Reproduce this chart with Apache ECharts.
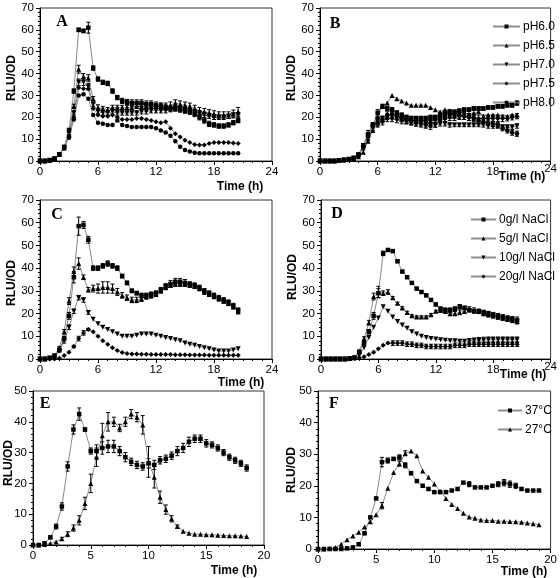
<!DOCTYPE html>
<html><head><meta charset="utf-8">
<script src="https://cdn.jsdelivr.net/npm/echarts@6/dist/echarts.min.js"></script>
<style>html,body{margin:0;padding:0;background:#fff}#c{width:560px;height:578px}</style>
</head><body><div id="c"></div><script>
// ---------- time points ----------
const tAD = [0,0.5,1,1.5,2,2.5,3,3.5,4,4.5,5,5.5,6,6.5,7,7.5,8,8.5,9,9.5,10,10.5,11,11.5,12,12.5,13,13.5,14,14.5,15,15.5,16,16.5,17,17.5,18,18.5,19,19.5,20,20.5];
const tE = [0,0.5,1,1.5,2,2.5,3,3.5,4,4.5,5,5.5,6,6.5,7,7.5,8,8.5,9,9.5,10,10.5,11,11.5,12,12.5,13,13.5,14,14.5,15,15.5,16,16.5,17,17.5,18,18.5];
const tF = [0,0.5,1,1.5,2,2.5,3,3.5,4,4.5,5,5.5,6,6.5,7,7.5,8,8.5,9,9.5,10,10.5,11,11.5,12,12.5,13,13.5,14,14.5,15,15.5,16,16.5,17,17.5,18,18.5,19];

// ---------- tick labels ----------
const ticksX24 = [0,6,12,18,24];
const ticksX20 = [0,5,10,15,20];
const ticksY70 = [0,10,20,30,40,50,60,70];
const ticksY50 = [0,10,20,30,40,50];

// ---------- Panel A (pH) ----------
const A_ph60 = [0,0,0.3,1,3,6.5,14,32,60,59.5,61,42.5,37.5,36,35.5,32,29,27.5,27,26.5,26.5,26.5,26,26,25.5,25,24.5,24,24,23.5,23,22.5,21.5,20,18.5,17,16.5,16,16,16.5,17.5,18.5];
const A_ph65 = [0,0,0.3,1,3,6,12,25,42,38.5,38,28.5,24.5,24,23.5,24.5,24.5,24.5,24.5,24.5,25,25,25,25,25,25,25,25.5,26.5,26,25.5,25,24,23,22.5,22,21.5,21,21,21,21.5,22.5];
const A_ph70 = [0,0,0.3,1,3,6,11,22,36,36,34,26,22.5,22,22,22.5,22,22,22,22,22,22.5,22.5,23,23,23,23,23.5,24,24,23.5,23,22.5,22,21,20.5,20,20,20,20.5,21,21];
const A_ph75 = [0,0,0.3,1,3,6,11,20,33.5,33,33,24,21,20.5,20.5,21,20,19,19,19,19.5,19.5,19,18.5,18,17.5,18,15,12.5,11,9.5,8.5,7.5,7.3,7.3,8,8.5,8.5,8.5,8.5,8.2,8];
const A_ph80 = [0,0,0.3,1,3,6,11,19,30,30.5,28.5,21,17.5,17,16.5,16.5,18.5,16.5,16,15.5,15.5,15.5,15.5,15.5,15,14,13,11.5,9,6.5,5,4.3,3.8,3.6,3.5,3.5,3.5,3.5,3.5,3.5,3.5,3.5];
const A_ph60_err = [0,0,0,0,0,0.5,1,1,0.8,0.8,2.5,1,1,1,1,1,1,1.2,1.2,1.5,1.5,1.5,1.5,1.5,1.5,1.5,1.2,1.2,1.2,1.2,1.2,1.2,1.2,1.2,1.2,1.2,1,1,1,1,1,1];
const A_ph65_err = [0,0,0,0,0,0.5,1,1,1.8,1.5,1.5,1,1.2,1,1,1,1,1,1,1,1,1,1,1,1,1.5,1.5,1.5,1.5,1.5,1.5,1.5,1.5,1.5,1.5,1.5,1.5,1.5,1.5,1.5,1.8,2];
const A_ph70_err = [0,0,0,0,0,0.5,1,1,1.5,1.5,1.5,1,1,1,1,1,1,1,1,1,1,1,1,1,1,1,1,1,1,1,1,1,1,1,1,1,1,1,1,1,1,1];

// ---------- Panel B (pH) ----------
const B_ph60 = [0,0,0,0,0.2,0.5,0.8,1.5,3,7,12,16.5,22,25,24,23.5,22,21,20,19.5,19.5,19.5,19.5,20,20,21,22,22.5,22.5,23,23.5,23.5,24,24,24,24.5,24.5,25,25,25.5,25.5,26.5];
const B_ph65 = [0,0,0,0,0.2,0.5,0.8,1,2,4,9,14,20,25,26.5,30,28.5,27.5,26.5,25.5,25.5,25.5,25.5,24.5,23.5,22.5,23.5,23,22.5,22,22,21.5,22,22.5,20.5,21,21,21,20.5,20.5,21,21];
const B_ph70 = [0,0,0,0,0.2,0.5,0.8,1,2.5,6,11,15,19,19.5,20,20.5,20,19,18,17.5,17,17,16.5,16.5,16.5,17,17,16.5,16.5,16.5,16.5,16.5,16.5,16.5,16.5,16,16,16,15.5,15.5,15.5,16];
const B_ph75 = [0,0,0,0,0.2,0.5,0.8,1,2.5,6.5,11,16.5,17,18,19.5,19.5,19,18.5,18.5,18,17.5,17,16.5,16,17,19,19.5,20,20,20.5,20.5,20,20,19.5,19.5,19.5,19.5,19.5,19.5,19.5,20,20.5];
const B_ph80 = [0,0,0,0,0.2,0.5,0.8,1,2.5,7,12.5,16,17,19,21,21.5,20.5,19.5,19,18.5,18.5,18.5,18.5,18.5,19,20,20.5,21,21,21,20.5,20,19.5,18.5,18,17.5,17,16.5,15,14,13,12.5];
const B_ph60_err = [0,0,0,0,0,0,0,0,0.8,1,1,1,1.5,1,1,1,1,1,1,1,1,1,1,1,1,1,1,1,0.8,0.8,0.8,0.8,0.8,0.8,0.8,0.8,0.8,0.8,0.8,0.8,0.8,1];
const B_ph70_err = [0,0,0,0,0,0,0,0,0.5,1,1,1,1,1,1,1,1,1,1,1,1,1,1,1,1,1,1,1,0.8,0.8,0.8,0.8,0.8,0.8,1,1,1,1,1,1,1,1];
const B_ph75_err = [0,0,0,0,0,0,0,0,0.5,1,1.5,1,1.5,1.5,1.5,1.5,1.5,1.5,1.5,1.5,1.5,1.5,1.5,1.5,1.5,1.5,1.5,1.5,1.5,1.5,1.5,1.5,1.5,1.5,1.5,1.5,1.5,1.5,1.5,1.2,1.2,1.2];
const B_ph80_err = [0,0,0,0,0,0,0,0,0.5,1,1.5,1,1,1.5,1.5,1.5,1.5,1.5,1.5,1.5,1.5,1.5,1.5,1.5,1.5,1.5,1.5,1.5,1.5,1.5,1.5,1.5,1.5,1.2,1.2,1.2,1.2,1.2,1.2,1.2,1.2,1.2];

// ---------- Panel C (NaCl) ----------
const C_0 = [0,0,0.5,1.5,4,9,19,36,58.5,59,52.5,40,40,41,42,41,40,36.5,33.5,30,29,28,28,28.5,29,30.5,32,33,34,34,33.5,33,32.5,31.5,30,29,28,27,26,25,23.5,21.5];
const C_5 = [0,0,0.5,1.5,5,12,25.5,38.5,42,36,30.5,31,31,31.5,31.5,31,29.5,28,27,26,26,26.5,27.5,28,28.5,30,31.5,32.5,33,33,33,32.5,32,31,29.5,28.5,27.5,26.5,25.5,24.5,23,21];
const C_10 = [0,0,0.3,1,3.5,8,14,21,27,26,20.5,17.5,15.5,14,13,12,11,10,10,10,10.5,11,11,11,10.5,10,9.5,9,8.5,8,7,6.5,6,5.5,5,4.5,4,3.5,3.5,3.5,4,4.5];
const C_20 = [0,0,0,0,0.3,1.5,3,5.5,9,11.5,13,12,10,8,6.5,5,3.7,2.9,2.4,2.2,2.2,2.1,2.1,2,2,2,2,2,1.9,1.9,1.9,1.8,1.8,1.8,1.8,1.7,1.7,1.7,1.7,1.6,1.6,1.6];
const C_0_err = [0,0,0,0,0.5,1,1.5,2.5,4,1.5,1.5,1,1,1,1.2,1,1,0.8,0.8,0.8,0.8,1,1,1,1,1,1.2,1.5,1.5,1.5,1.5,1,1,1,1,1,1,1,1,1,1,1];
const C_5_err = [0,0,0,0,0.5,1,1.5,2,2.5,1,1,1.5,2,2.5,2.5,2,1.5,1.2,1.2,1.2,1.2,1.2,1.2,1.2,1,1,1,1,1,1,1,1,1,1,1,1,1,1,1,1,1,1.2];
const C_10_err = [0,0,0,0,0.5,1,1,1,1,1,0.8,0,0,0,0,0,0,0,0,0,0,0,0,0,0,0,0,0,0,0,0,0,0,0,0,0,0,0,0,0,0,0];
const C_20_err = [0,0,0,0,0,0,0,0.5,1,1,0.5,0,0,0,0,0,0,0,0,0,0,0,0,0,0,0,0,0,0,0,0,0,0,0,0,0,0,0,0,0,0,0];

// ---------- Panel D (NaCl) ----------
const D_0 = [0,0,0,0,0,0,0.2,0.5,3,7,12,19,29,46.5,48,47.5,43,38.5,36,33.5,31,29.5,28,26,24,22,21.5,21.5,22,23,22.5,21.5,21,21,20.5,20,19.5,19,18.5,18,17.5,17];
const D_5 = [0,0,0,0,0,0,0.2,0.5,3.5,9,16,27.5,29.5,29,29.5,27,24.5,22.5,20.5,19,18.5,18.5,18.5,19.5,21,21.5,21,20,20,20.5,21,22,21.5,21,20,19.5,19,18.5,18,17.5,17,16.5];
const D_10 = [0,0,0,0,0,0,0.2,0.5,1.5,5,9.5,14,18,23,21,18.5,16.5,15,13.5,12,11,10,9.5,9,8.8,8.5,8.2,8,8,7.8,7.8,8,8.2,8.3,8.4,8.5,8.5,8.5,8.5,8.5,8.5,8.5];
const D_20 = [0,0,0,0,0,0,0,0.2,0.5,1,2,3,4.5,6,7,7,7,7,6.5,6.5,6,6,5.5,5.5,5.5,5.5,5.5,5.5,6,6,6,6.5,6.5,6.5,6.5,6.5,6.5,6.5,6.5,6.5,6.5,6.5];
const D_0_err = [0,0,0,0,0,0,0,0,0.5,0.8,1,1.5,2,1,0.5,0.5,0.5,0.5,0.5,0.5,0.5,0.5,0.5,0.5,0.5,1,1,1,1,1,0.8,0.8,0.8,0.8,1,1,1,1,1,1,1.2,1.5];
const D_5_err = [0,0,0,0,0,0,0,0,0.5,0.8,1,1.5,2.5,1,1,0.5,0.5,0.5,0.5,0.5,0.5,0.5,0.5,0.5,0.5,1,1,1,1,1,1,1,1,1,1,1,1,1,1,1,1,1];
const D_10_err = [0,0,0,0,0,0,0,0,0,0,0,0,0,0,0,0,0,0,0,0,0,0,0,0,0,0,0,0,0,0,0,1,1,1.2,1.2,1.2,1.2,1.2,1.2,1.2,1.2,1.2];
const D_20_err = [0,0,0,0,0,0,0,0,0,0,0,0,0,0,0,1,1,1,1,1,1,1,1,1,1,1,1,1,1,1,1,1,1,1,1,1,1,1,1,1,1,1];

// ---------- Panel E ----------
const E_sq = [0,0,0.5,2.5,6,12.5,25.5,37.5,42.5,37.5,30.5,30.5,31.5,32,32,30.5,28.5,27,26,25.5,26.5,26,27.5,28,29,30.5,31.5,33.5,34.5,34.5,33,32.5,31.5,30,28.5,27.5,26.5,25];
const E_tri = [0,0,0.2,0.5,1,2,3.5,5.5,8,13.5,20,28.5,35.5,40,40,38,40,42.5,41.5,39,27,22,15.5,11.5,8.5,6,4.5,3.8,3.5,3.5,3.3,3.3,3.2,3.1,3,3,2.9,2.8];
const E_sq_err = [0,0,0.5,0.5,0.8,1.2,1.5,1.5,2,0.5,1,2,2,2,2,1.5,1.5,1.2,1.2,1.2,1.5,1.5,1.2,1.2,1.2,1.5,1.5,1.5,1.2,1.2,1.2,1,1,1,1,1,1,1];
const E_tri_err = [0,0,0,0,0,0.5,0.8,1,1.5,2,3,3,4,3,1.5,1.2,1.5,1.5,1.5,3,5,3.5,2,1.5,1,0.5,0,0,0,0,0,0,0,0,0,0,0,0];

// ---------- Panel F (temperature) ----------
const F_37 = [0,0,0,0,0,0.2,0.5,1.5,5,10,16,27.5,28,28.5,29,26.5,24,21.5,20,19,18,18,18,18.5,19,21,20.5,19.5,19.5,19.5,20,20.5,21,20.5,20,19,18.5,18.5,18.5];
const F_27 = [0,0,0.2,0.5,1.5,2.9,4.1,5.3,7,8.6,10.8,13.7,19.2,24.2,27,30.3,31,29.5,24.7,22.7,20.6,18.3,16,14.1,12.8,11.3,10.1,9.7,9.2,9,9,8.8,8.8,8.7,8.6,8.5,8.2,8,7.7];
const F_37_err = [0,0,0,0,0,0,0,0,0.5,0,0,1.5,0.8,0.5,0.8,0.8,0.5,0,0,0,0,0,0,0,0,0,0.8,0,0,0,0,0.8,1,1,0.8,0,0,0,0];
const F_27_err = [0,0,0,0,0,0,0,0,0,0,0,1,0,0,0.8,0.8,0,0,0,0,0,0,0,0,0,0,0,0,0,0,0,0,0,0,0,0,0,0,0];

// ---------- names ----------
const namesPH = ['pH6.0','pH6.5','pH7.0','pH7.5','pH8.0'];
const namesNaCl = ['0g/l NaCl','5g/l NaCl','10g/l NaCl','20g/l NaCl'];
const namesT = ['37\u00B0C','27\u00B0C'];

const FONT = '"Liberation Sans", Arial, sans-serif';
const chart = echarts.init(document.getElementById('c'), null, {renderer:'canvas'});

const grids = [
  {left:40, top:8, width:232, height:153},
  {left:320, top:8, width:232, height:153},
  {left:40, top:200, width:232, height:159},
  {left:321, top:200, width:233, height:159},
  {left:33, top:391, width:231, height:154},
  {left:318, top:391, width:235, height:158}
].map(g => Object.assign(g, {show:true, borderColor:'#333', borderWidth:1, backgroundColor:'transparent'}));

function xAx(gi, ticks, minorSplit, raiseLast) {
  const last = ticks[ticks.length-1];
  return {type:'value', gridIndex:gi, min:ticks[0], max:last, interval:ticks[1]-ticks[0],
    axisLine:{show:true, onZero:false, lineStyle:{color:'#000', width:1}},
    axisTick:{show:true, length:4, lineStyle:{color:'#000'}},
    minorTick:{show:true, splitNumber:minorSplit, length:2, lineStyle:{color:'#000'}},
    splitLine:{show:false},
    axisLabel:{color:'#000', fontFamily:FONT, fontSize:11.5, margin:5,
      formatter: v => (raiseLast && v === last) ? '{r|' + v + '}' : String(v),
      rich:{r:{fontFamily:FONT, fontSize:11.5, color:'#000', padding:[-3,0,3,0]}}}};
}
function yAx(gi, ticks) {
  return {type:'value', gridIndex:gi, min:ticks[0], max:ticks[ticks.length-1], interval:ticks[1]-ticks[0],
    axisLine:{show:true, onZero:false, lineStyle:{color:'#000', width:1}},
    axisTick:{show:true, length:4, lineStyle:{color:'#000'}},
    minorTick:{show:true, splitNumber:5, length:2, lineStyle:{color:'#000'}},
    splitLine:{show:false},
    axisLabel:{color:'#000', fontFamily:FONT, fontSize:11.5, margin:6}};
}

const SYM = {
  sq:{symbol:'rect', size:4.5, rot:0},
  up:{symbol:'triangle', size:5, rot:0},
  dn:{symbol:'triangle', size:5, rot:180},
  di:{symbol:'diamond', size:5, rot:0},
  ci:{symbol:'circle', size:4.5, rot:0}
};

const series = [];
function addLine(gi, name, xs, ys, sym) {
  series.push({type:'line', name, xAxisIndex:gi, yAxisIndex:gi,
    data: xs.map((x,i)=>[x, ys[i]]),
    symbol:sym.symbol, symbolSize:sym.size, symbolRotate:sym.rot, showSymbol:true, clip:false,
    lineStyle:{color:'#8c8c8c', width:1}, itemStyle:{color:'#000'}, z:3, animation:false});
}
function addErr(gi, xs, ys, es) {
  const data = [];
  xs.forEach((x,i)=>{ if (es[i] >= 0.5) data.push([x, Math.max(0, ys[i]-es[i]), ys[i]+es[i]]); });
  series.push({type:'custom', xAxisIndex:gi, yAxisIndex:gi, data, silent:true, z:4, animation:false,
    encode:{x:0, y:[1,2]},
    renderItem(params, api) {
      const x = api.value(0);
      const lo = api.coord([x, api.value(1)]);
      const hi = api.coord([x, api.value(2)]);
      const hw = 2;
      const style = {stroke:'#000', lineWidth:1};
      return {type:'group', children:[
        {type:'line', shape:{x1:lo[0], y1:lo[1], x2:hi[0], y2:hi[1]}, style},
        {type:'line', shape:{x1:lo[0]-hw, y1:lo[1], x2:lo[0]+hw, y2:lo[1]}, style},
        {type:'line', shape:{x1:hi[0]-hw, y1:hi[1], x2:hi[0]+hw, y2:hi[1]}, style}
      ]};
    }});
}

// Panel A
addLine(0, namesPH[0], tAD, A_ph60, SYM.sq);
addLine(0, namesPH[1], tAD, A_ph65, SYM.up);
addLine(0, namesPH[2], tAD, A_ph70, SYM.dn);
addLine(0, namesPH[3], tAD, A_ph75, SYM.di);
addLine(0, namesPH[4], tAD, A_ph80, SYM.ci);
addErr(0, tAD, A_ph60, A_ph60_err);
addErr(0, tAD, A_ph65, A_ph65_err);
addErr(0, tAD, A_ph70, A_ph70_err);
// Panel B
addLine(1, namesPH[0], tAD, B_ph60, SYM.sq);
addLine(1, namesPH[1], tAD, B_ph65, SYM.up);
addLine(1, namesPH[2], tAD, B_ph70, SYM.dn);
addLine(1, namesPH[3], tAD, B_ph75, SYM.di);
addLine(1, namesPH[4], tAD, B_ph80, SYM.ci);
addErr(1, tAD, B_ph60, B_ph60_err);
addErr(1, tAD, B_ph70, B_ph70_err);
addErr(1, tAD, B_ph75, B_ph75_err);
addErr(1, tAD, B_ph80, B_ph80_err);
// Panel C
addLine(2, namesNaCl[0], tAD, C_0, SYM.sq);
addLine(2, namesNaCl[1], tAD, C_5, SYM.up);
addLine(2, namesNaCl[2], tAD, C_10, SYM.dn);
addLine(2, namesNaCl[3], tAD, C_20, SYM.di);
addErr(2, tAD, C_0, C_0_err);
addErr(2, tAD, C_5, C_5_err);
addErr(2, tAD, C_10, C_10_err);
addErr(2, tAD, C_20, C_20_err);
// Panel D
addLine(3, namesNaCl[0], tAD, D_0, SYM.sq);
addLine(3, namesNaCl[1], tAD, D_5, SYM.up);
addLine(3, namesNaCl[2], tAD, D_10, SYM.dn);
addLine(3, namesNaCl[3], tAD, D_20, SYM.di);
addErr(3, tAD, D_0, D_0_err);
addErr(3, tAD, D_5, D_5_err);
addErr(3, tAD, D_10, D_10_err);
addErr(3, tAD, D_20, D_20_err);
// Panel E
addLine(4, 'E squares', tE, E_sq, SYM.sq);
addLine(4, 'E triangles', tE, E_tri, SYM.up);
addErr(4, tE, E_sq, E_sq_err);
addErr(4, tE, E_tri, E_tri_err);
// Panel F
addLine(5, namesT[0], tF, F_37, SYM.sq);
addLine(5, namesT[1], tF, F_27, SYM.up);
addErr(5, tF, F_37, F_37_err);
addErr(5, tF, F_27, F_27_err);

function legend(names, left, top, itemWidth) {
  return {show:true, orient:'vertical', left, top, data:names, itemWidth, itemHeight:5, itemGap:4,
    selectedMode:false, inactiveColor:'#000',
    textStyle:{color:'#000', fontFamily:FONT, fontSize:12, lineHeight:15, padding:[0,0,0,-2]}};
}

function txt(x, y, text, font, rot) {
  return {type:'text', x, y, rotation: rot || 0, silent:true, z:10,
    style:{text, font, fill:'#000', align:'center', verticalAlign:'middle'}};
}
const AXF = 'bold 12px "Liberation Sans", Arial, sans-serif';
const LETF = 'bold 16px "Liberation Serif", "Times New Roman", serif';
const graphics = [
  txt(12, 78, 'RLU/OD', AXF, Math.PI/2),
  txt(292, 78, 'RLU/OD', AXF, Math.PI/2),
  txt(12, 283, 'RLU/OD', AXF, Math.PI/2),
  txt(293, 277, 'RLU/OD', AXF, Math.PI/2),
  txt(9, 463, 'RLU/OD', AXF, Math.PI/2),
  txt(292, 470, 'RLU/OD', AXF, Math.PI/2),
  txt(240, 187, 'Time (h)', AXF),
  txt(522, 177, 'Time (h)', AXF),
  txt(241, 383, 'Time (h)', AXF),
  txt(523, 375, 'Time (h)', AXF),
  txt(234, 571, 'Time (h)', AXF),
  txt(524, 572, 'Time (h)', AXF),
  txt(62, 22, 'A', LETF),
  txt(335, 24, 'B', LETF),
  txt(57, 215, 'C', LETF),
  txt(337, 214, 'D', LETF),
  txt(45, 404, 'E', LETF),
  txt(334, 404, 'F', LETF)
];

chart.setOption({
  animation:false,
  backgroundColor:'#fff',
  grid: grids,
  xAxis: [xAx(0,ticksX24,6,false), xAx(1,ticksX24,6,true), xAx(2,ticksX24,6,false), xAx(3,ticksX24,6,true), xAx(4,ticksX20,5,false), xAx(5,ticksX20,5,false)],
  yAxis: [yAx(0,ticksY70), yAx(1,ticksY70), yAx(2,ticksY70), yAx(3,ticksY70), yAx(4,ticksY50), yAx(5,ticksY50)],
  legend: [legend(namesPH, 487, 14, 27), legend(namesNaCl, 465, 207, 25), legend(namesT, 492, 398, 24)],
  series,
  graphic: graphics
});
</script></body></html>
